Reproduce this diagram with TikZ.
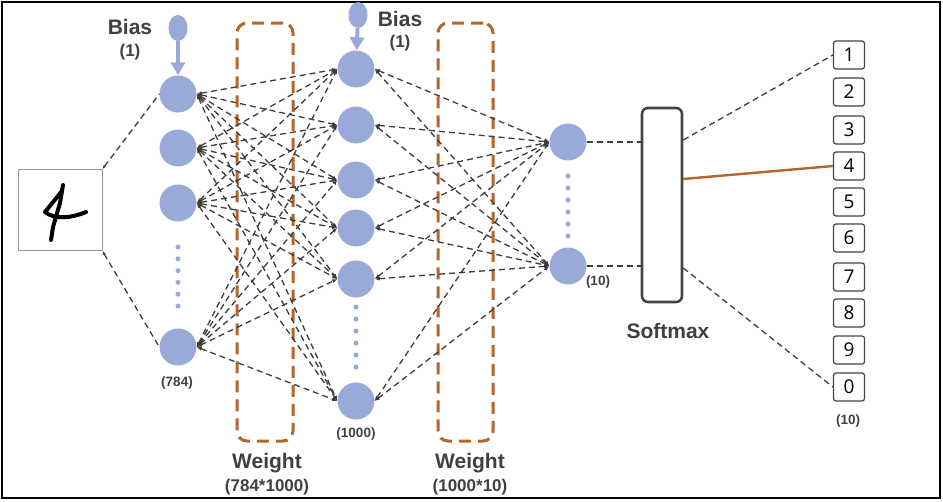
\documentclass[tikz,border=0pt]{standalone}
\usepackage{fontspec}
\setmainfont{Liberation Sans}
\newfontfamily\digitfont{Open Sans}
\usetikzlibrary{arrows.meta,shapes.geometric}
\definecolor{nodeblue}{HTML}{99A9D8}
\definecolor{edgegray}{HTML}{3C3C3C}
\definecolor{wbrown}{HTML}{B5652B}
\definecolor{labelgray}{HTML}{404040}
\definecolor{boxgray}{HTML}{444444}
\begin{document}
\begin{tikzpicture}[x=1pt,y=-1pt,
  neuron/.style={circle,fill=nodeblue,minimum size=37pt,inner sep=0pt},
  dotnode/.style={circle,fill=nodeblue,minimum size=5pt,inner sep=0pt},
  biasnode/.style={ellipse,fill=nodeblue,minimum width=19pt,minimum height=26pt,inner sep=0pt},
  biasarrow/.style={draw=nodeblue,line width=4pt,-{Triangle[length=13pt,width=14pt]}},
  conn/.style={draw=edgegray,line width=1.3pt,dash pattern=on 6pt off 4pt,{Latex[length=5pt,width=4pt]}-{Latex[length=5pt,width=4pt]}},
  inconn/.style={draw=edgegray,line width=1.3pt,dash pattern=on 6pt off 4pt,{Latex[length=4pt,width=3pt]}-},
  plainconn/.style={draw=edgegray,line width=1.3pt,dash pattern=on 6pt off 4pt},
  wbox/.style={draw=wbrown,line width=3pt,dash pattern=on 12pt off 7pt,rounded corners=10pt,inner sep=0pt},
  smbox/.style={draw=boxgray,line width=2.6pt,rounded corners=6pt,inner sep=0pt,minimum width=40pt,minimum height=194pt},
  obox/.style={draw=boxgray,line width=1.2pt,rounded corners=2.5pt,minimum width=31pt,minimum height=28pt,inner sep=0pt,font=\digitfont\fontsize{19}{20}\selectfont,text=black},
  biglabel/.style={text=labelgray,font=\bfseries\fontsize{21}{24}\selectfont,inner sep=0pt},
  midlabel/.style={text=labelgray,font=\bfseries\fontsize{17}{20}\selectfont,inner sep=0pt},
  smalllabel/.style={text=labelgray,font=\bfseries\fontsize{13.5}{15}\selectfont,inner sep=0pt},
  digitstroke/.style={line width=4pt,line cap=round,line join=round,black}
]
\useasboundingbox (0,0) rectangle (943,501);
\draw[black,line width=1.6pt] (2,2) rectangle (940,498);

% input image
\node[draw=black!40,line width=0.6pt,minimum width=84pt,minimum height=81pt,inner sep=0pt] (img) at (60,210) {};
\draw[digitstroke] (63,185) -- (60,203) -- (53,227) -- (51,240);
\draw[digitstroke] (62,191) -- (45,212) .. controls (55,220) and (72,218) .. (86,212);

% weight boxes
\node[wbox,minimum width=56pt,minimum height=418pt] (w1) at (265,232) {};
\node[wbox,minimum width=55pt,minimum height=418pt] (w2) at (465.5,232) {};

% layer 1
\node[neuron] (a1) at (178,94) {};
\node[neuron] (a2) at (178,148) {};
\node[neuron] (a3) at (178,203) {};
\node[neuron] (a4) at (178,347) {};
\foreach \k in {0,...,5} \node[dotnode] (da\k) at (178,247+11.8*\k) {};

% layer 2
\node[neuron] (b1) at (356,69) {};
\node[neuron] (b2) at (356,125) {};
\node[neuron] (b3) at (356,180) {};
\node[neuron] (b4) at (356,228) {};
\node[neuron] (b5) at (356,279) {};
\node[neuron] (b6) at (356,401) {};
\foreach \k in {0,...,5} \node[dotnode] (db\k) at (356,307+12*\k) {};

% layer 3
\node[neuron] (c1) at (568,142) {};
\node[neuron] (c2) at (568,266) {};
\foreach \k in {0,...,5} \node[dotnode] (dc\k) at (568,176+12*\k) {};

% bias
\node[biasnode] (bias1) at (178,28) {};
\node[biasnode] (bias2) at (358,15) {};
\draw[biasarrow] (bias1) -- (a1);
\draw[biasarrow] (bias2) -- (b1);

% softmax
\node[smbox] (sm) at (662,205) {};

% output boxes
\foreach \n/\y in {1/55,2/92,3/130,4/166,5/202,6/238,7/277,8/313,9/350,0/387}
  \node[obox] (o\n) at (849,\y) {\n};

% connections
\draw[inconn] (img.north east) -- (a1.west);
\draw[inconn] (img.south east) -- (a4.west);
\foreach \i in {1,...,4} \foreach \j in {1,...,6} \draw[conn] (a\i.east) -- (b\j.west);
\foreach \i in {1,...,6} \foreach \j in {1,2} \draw[conn] (b\i.east) -- (c\j.west);
\draw[plainconn] (c1.east) -- (sm.west |- c1.east);
\draw[plainconn] (c2.east) -- (sm.west |- c2.east);
\draw[plainconn] ([yshift=65pt]sm.east) -- (o1.west);
\draw[plainconn] ([yshift=-63pt]sm.east) -- (o0.west);
\draw[wbrown,line width=2.4pt] ([yshift=26pt]sm.east) -- (o4.west);

% labels
\node[biglabel] (lbias1) at (130,27) {Bias};
\node[midlabel] (lone1) at (130,52) {(1)};
\node[biglabel] (lbias2) at (400,19) {Bias};
\node[midlabel] (lone2) at (400,43) {(1)};
\node[smalllabel] (l784) at (177,383) {(784)};
\node[smalllabel] (l1000) at (356,434) {(1000)};
\node[smalllabel] (l10a) at (598,282) {(10)};
\node[smalllabel] (l10b) at (848,421) {(10)};
\node[biglabel] (lw1) at (267,463) {Weight};
\node[midlabel] (lw1n) at (267,487) {(784*1000)};
\node[biglabel] (lw2) at (470,463) {Weight};
\node[midlabel] (lw2n) at (470,487) {(1000*10)};
\node[biglabel] (lsm) at (668,331) {Softmax};
\end{tikzpicture}
\end{document}
